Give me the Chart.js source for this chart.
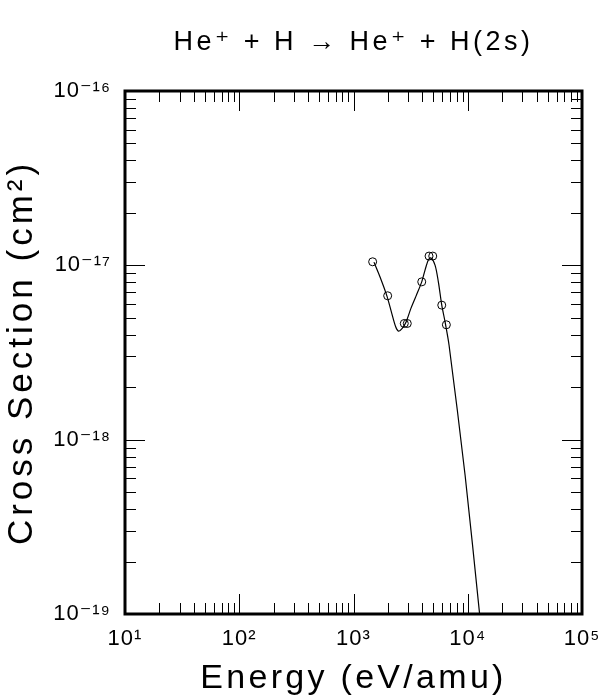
<!DOCTYPE html>
<html lang="en">
<head>
<meta charset="UTF-8" />
<title>He+ + H -> He+ + H(2s)</title>
<style>
  body { margin: 0; background: #fff; }
  #wrap { width: 598px; height: 696px; }
</style>
</head>
<body>
<div id="wrap"><canvas id="chart" width="598" height="696"></canvas></div>

<script src="https://cdn.jsdelivr.net/npm/chart.js"></script>
<script>
  // fitted curve (eV/amu, cm^2)
  const curveEnergy = [1510, 1704, 1963, 2159, 2340, 2476, 2657, 2880, 3187, 3525, 3956,
                       4227, 4519, 4743, 5172, 5530, 5923, 6330, 6862, 9480, 12700];
  const curveSigma = [1.043e-17, 8.60e-18, 6.66e-18, 5.32e-18, 4.44e-18, 4.19e-18, 4.33e-18,
                      4.72e-18, 5.68e-18, 6.66e-18, 8.04e-18, 9.39e-18, 1.072e-17, 1.104e-17,
                      1.003e-17, 8.04e-18, 5.91e-18, 4.74e-18, 3.48e-18, 6.25e-19, 1.0e-19];

  // measured points (open circles)
  const pointEnergy = [1471, 1991, 2783, 2957, 3956, 4583, 4939, 5923, 6498];
  const pointSigma = [1.048e-17, 6.69e-18, 4.64e-18, 4.64e-18, 8.04e-18, 1.13e-17, 1.13e-17,
                      5.91e-18, 4.56e-18];

  const xTickValues = [1e1, 1e2, 1e3, 1e4, 1e5];
  const xTickLabels = ["10¹", "10²", "10³", "10⁴", "10⁵"];
  const yTickValues = [1e-19, 1e-18, 1e-17, 1e-16];
  const yTickLabels = ["10⁻¹⁹", "10⁻¹⁸", "10⁻¹⁷", "10⁻¹⁶"];

  const titleText = "He⁺ + H → He⁺ + H(2s)";
  const xTitle = "Energy (eV/amu)";
  const yTitle = "Cross Section (cm²)";

  const FONT = "'Liberation Sans', 'DejaVu Sans', sans-serif";

  // wide letter spacing like the old plotter font, picked by font size
  const spacingBySize = { 22: "1px", 27: "3.5px", 34: "3.3px", 35: "4px" };
  const spacing = {
    id: "spacing",
    beforeInit(chart) {
      const ctx = chart.ctx;
      const fill = ctx.fillText;
      ctx.fillText = function (t, x, y, w) {
        const m = /(\d+(?:\.\d+)?)px/.exec(this.font);
        this.letterSpacing = (m && spacingBySize[Math.round(+m[1])]) || "0px";
        return w === undefined ? fill.call(this, t, x, y) : fill.call(this, t, x, y, w);
      };
    }
  };

  // frame with inward ticks on all four sides
  const frame = {
    id: "frame",
    afterDatasetsDraw(chart) {
      const { ctx, chartArea: a, scales: { x, y } } = chart;
      ctx.save();
      ctx.strokeStyle = "#000";
      ctx.lineWidth = 1;
      ctx.beginPath();
      for (let d = 10; d < 1e5; d *= 10) {
        for (let m = 1; m <= 9; m++) {
          const px = Math.round(x.getPixelForValue(m * d)) + 0.5;
          const len = m === 1 ? 20 : 11;
          ctx.moveTo(px, a.bottom); ctx.lineTo(px, a.bottom - len);
          ctx.moveTo(px, a.top); ctx.lineTo(px, a.top + len);
        }
      }
      for (let d = 1e-19; d < 1e-16 * 0.99; d *= 10) {
        for (let m = 1; m <= 9; m++) {
          const py = Math.round(y.getPixelForValue(m * d)) + 0.5;
          const len = m === 1 ? 20 : 11;
          ctx.moveTo(a.left, py); ctx.lineTo(a.left + len, py);
          ctx.moveTo(a.right, py); ctx.lineTo(a.right - len, py);
        }
      }
      ctx.stroke();
      ctx.lineWidth = 3;
      ctx.strokeRect(a.left, a.top, a.right - a.left, a.bottom - a.top);
      ctx.restore();
    }
  };

  new Chart(document.getElementById("chart"), {
    type: "scatter",
    data: {
      datasets: [
        {
          data: curveEnergy.map((e, i) => ({ x: e, y: curveSigma[i] })),
          showLine: true,
          borderColor: "#000",
          borderWidth: 1.2,
          pointRadius: 0,
          tension: 0.3
        },
        {
          data: pointEnergy.map((e, i) => ({ x: e, y: pointSigma[i] })),
          showLine: false,
          pointStyle: "circle",
          pointRadius: 4,
          borderWidth: 1,
          borderColor: "#000",
          backgroundColor: "rgba(0,0,0,0)"
        }
      ]
    },
    options: {
      responsive: false,
      animation: false,
      layout: { padding: { left: 0, right: 16, top: 0, bottom: 0 } },
      plugins: {
        legend: { display: false },
        tooltip: { enabled: false },
        title: {
          display: true,
          text: titleText,
          fullSize: false,
          color: "#000",
          font: { family: FONT, size: 27, weight: "normal" },
          padding: { top: 26, bottom: 32.6 }
        }
      },
      scales: {
        x: {
          type: "logarithmic",
          min: 10,
          max: 1e5,
          grid: { display: false, drawTicks: false },
          border: { display: false },
          afterBuildTicks: (s) => { s.ticks = xTickValues.map(v => ({ value: v })); },
          afterFit: (s) => { s.height = 82; s.paddingLeft = 0; s.paddingRight = 0; },
          ticks: {
            autoSkip: false,
            maxRotation: 0,
            padding: 12,
            color: "#000",
            font: { family: FONT, size: 22 },
            callback: (v, i) => xTickLabels[i]
          },
          title: {
            display: true,
            text: xTitle,
            color: "#000",
            font: { family: FONT, size: 34, lineHeight: 1 },
            padding: { top: 0, bottom: 0 }
          }
        },
        y: {
          type: "logarithmic",
          min: 1e-19,
          max: 1e-16,
          grid: { display: false, drawTicks: false },
          border: { display: false },
          afterBuildTicks: (s) => { s.ticks = yTickValues.map(v => ({ value: v })); },
          afterFit: (s) => { s.width = 125; s.paddingTop = 0; s.paddingBottom = 0; },
          ticks: {
            autoSkip: false,
            padding: 14,
            color: "#000",
            font: { family: FONT, size: 22 },
            callback: (v, i) => yTickLabels[i]
          },
          title: {
            display: true,
            text: yTitle,
            color: "#000",
            font: { family: FONT, size: 35 },
            padding: { top: 1, bottom: 0 }
          }
        }
      }
    },
    plugins: [spacing, frame]
  });
</script>
</body>
</html>
